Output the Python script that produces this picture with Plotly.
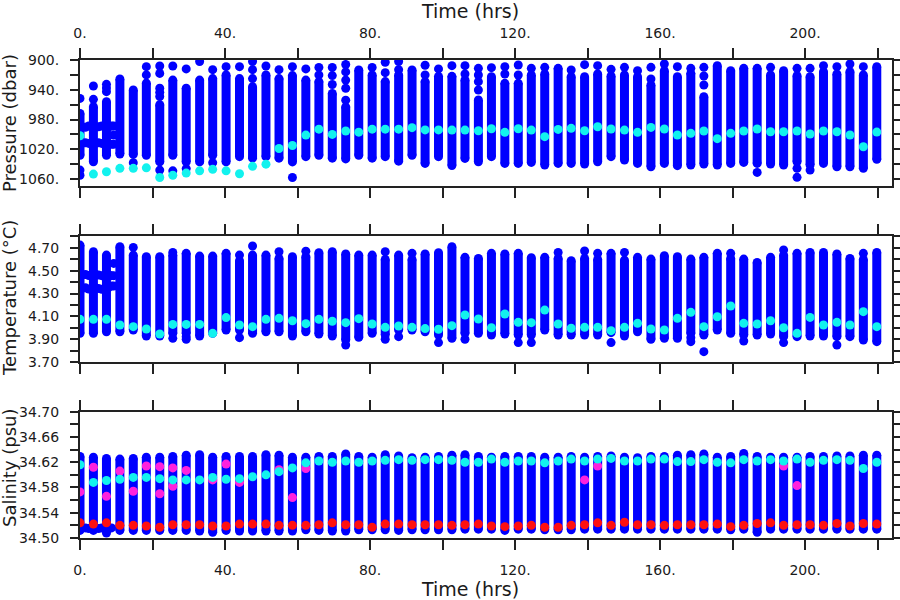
import plotly.graph_objects as go

# ---------------- data ----------------
time_hrs = [0.0, 3.7, 7.3, 11.0, 14.7, 18.3, 22.0, 25.6, 29.3, 33.0, 36.6, 40.3, 44.0, 47.6,
            51.3, 54.9, 58.6, 62.3, 65.9, 69.6, 73.3, 76.9, 80.6, 84.2, 87.9, 91.6, 95.2, 98.9,
            102.6, 106.2, 109.9, 113.5, 117.2, 120.9, 124.5, 128.2, 131.9, 135.5, 139.2, 142.8,
            146.5, 150.2, 153.8, 157.5, 161.2, 164.8, 168.5, 172.1, 175.8, 179.5, 183.1, 186.8,
            190.5, 194.1, 197.8, 201.4, 205.1, 208.8, 212.4, 216.1, 219.8]

# Pressure (dbar): main bar top / bottom, isolated points, highlighted (cyan) point
p_top = [972, 962.8, 956, 925.6, 940.4, 931, 960, 927, 938, 927, 925, 920, 925, 936, 920, 925, 921,
         927, 929, 945, 963, 913.5, 920, 929, 920, 913.5, 929, 922, 922, 926.9, 953.8, 922.4, 931.4,
         931.4, 920.2, 918.8, 911.2, 922.4, 922.4, 918.8, 921.5, 920.2, 922.4, 933.6, 914.3, 922.4,
         917.9, 949.3, 907.6, 914.3, 911.2, 911.2, 920.2, 914.3, 921.1, 922.4, 915.7, 918.8, 915.7,
         920.2, 909]
p_bot = [1028, 1036.8, 1028, 1026.4, 1026.9, 1028, 1037, 1028, 1037, 1037, 1028, 1037, 1030, 1032,
         1030, 1032, 1037, 1030, 1028, 1032, 1033, 1028, 1032, 1030, 1036, 1028, 1039, 1030, 1042,
         1032.3, 1036.8, 1030, 1039, 1039, 1037.7, 1041.2, 1039, 1039, 1039.9, 1036.8, 1030, 1034.5,
         1039, 1043.5, 1039, 1042.1, 1041.2, 1039.9, 1041.2, 1039, 1037.7, 1039, 1039.9, 1041.2,
         1036.8, 1041.2, 1039, 1043.5, 1043.5, 1045.7, 1033.6]
p_extra = [[951.6, 1048, 1055], [935, 952.9], [932.7, 937.6, 942.6], [], [1038], [909, 920],
           [908, 918, 938, 943.5, 949, 1048], [908, 1049], [912, 1046], [902], [913, 1038], [909],
           [909], [902, 913, 925], [908], [913], [909, 1058], [912], [910, 920], [910, 921, 933],
           [906, 916, 927, 938, 954], [], [910], [903, 917], [902, 913], [], [907, 920], [912],
           [907.6], [907.6, 918.8], [911.2, 920.2, 929.1, 940.4], [910.3], [909, 918.8],
           [906.7, 920.2], [911.2], [909.9], [], [913.5], [906.3], [907.6], [912.6], [909.9],
           [914.3], [909.9, 925.6], [905.4], [909], [911.2], [909.9, 921.5, 933.6], [], [], [],
           [1051.1], [909.9], [], [911.2, 1045.7, 1057.8], [911.2, 1048], [907.6], [909], [905.4],
           [909], []]
p_cyan = [1001.8, 1053.4, 1050.2, 1045.7, 1045.7, 1045, 1058, 1055, 1052, 1049, 1047, 1049, 1053,
          1043, 1040, 1019, 1015, 1001, 993, 1000, 995.5, 997, 993, 993, 993, 991, 994, 994, 994.2,
          994.2, 995.1, 992.4, 997.3, 992.4, 994.2, 1003.1, 993.3, 991.9, 995.1, 989.7, 992.8,
          994.2, 997.3, 990.6, 992.8, 1000.9, 998.6, 995.5, 1005.8, 998.6, 995.5, 992.8, 996.4,
          996.4, 995.5, 999.5, 995.5, 996.4, 1000.9, 1016.6, 996.9]

# Temperature (deg C)
t_top = [4.723, 4.665, 4.636, 4.709, 4.636, 4.622, 4.622, 4.636, 4.651, 4.627, 4.627, 4.651, 4.587,
         4.636, 4.636, 4.607, 4.622, 4.622, 4.656, 4.665, 4.645, 4.636, 4.636, 4.598, 4.636, 4.598,
         4.645, 4.656, 4.709, 4.616, 4.607, 4.651, 4.645, 4.651, 4.613, 4.616, 4.607, 4.587, 4.607,
         4.598, 4.651, 4.592, 4.616, 4.601, 4.630, 4.622, 4.601, 4.616, 4.651, 4.607, 4.601, 4.572,
         4.616, 4.636, 4.651, 4.659, 4.659, 4.645, 4.607, 4.598, 4.659]
t_bot = [3.953, 3.953, 3.967, 3.967, 3.982, 3.930, 3.930, 3.953, 3.953, 3.930, 3.953, 3.982, 3.982,
         3.953, 3.967, 3.967, 3.930, 3.967, 3.947, 3.930, 3.895, 3.918, 3.953, 3.938, 3.982, 3.982,
         3.967, 3.938, 3.909, 3.953, 3.953, 3.938, 3.947, 3.938, 3.938, 3.982, 3.938, 3.938, 3.938,
         3.938, 3.959, 3.930, 3.967, 3.901, 3.909, 3.909, 3.953, 3.938, 3.982, 3.953, 3.938, 3.938,
         3.947, 3.924, 3.924, 3.930, 3.930, 3.924, 3.924, 3.895, 3.880]
t_extra = [[], [], [], [], [4.703], [], [], [4.659, 3.909], [3.924, 3.901], [], [], [],
           [4.636, 3.915], [4.715], [], [4.665], [], [4.670], [], [], [3.851], [], [],
           [4.665, 3.901], [3.924], [4.651], [], [3.872], [], [3.901], [], [], [], [3.872],
           [3.872], [], [4.659], [], [4.671], [4.651], [3.872], [4.659], [], [], [], [],
           [3.915, 3.880], [3.793], [], [4.651], [3.886], [], [], [4.680, 3.872], [], [], [],
           [3.851], [], [4.651], []]
t_cyan = [4.075, 4.075, 4.075, 4.026, 4.011, 3.991, 3.947, 4.031, 4.031, 4.031, 3.953, 4.090, 4.026,
          4.011, 4.075, 4.084, 4.063, 4.037, 4.075, 4.058, 4.046, 4.081, 4.034, 4.005, 4.017, 4.005,
          3.994, 3.988, 4.020, 4.113, 4.078, 4.002, 4.122, 4.049, 4.046, 4.156, 4.034, 3.997, 4.005,
          4.005, 3.976, 4.005, 4.040, 3.991, 3.982, 4.084, 4.136, 4.011, 4.098, 4.191, 4.040, 4.034,
          4.063, 4.002, 3.953, 4.092, 4.026, 4.049, 4.026, 4.142, 4.011]

# Salinity (psu)
s_top = [34.629, 34.628, 34.626, 34.625, 34.626, 34.628, 34.628, 34.629, 34.631, 34.632, 34.628,
         34.629, 34.629, 34.629, 34.632, 34.631, 34.628, 34.628, 34.629, 34.629, 34.633, 34.629,
         34.628, 34.632, 34.630, 34.627, 34.628, 34.629, 34.631, 34.632, 34.629, 34.628, 34.629,
         34.629, 34.629, 34.628, 34.628, 34.629, 34.628, 34.629, 34.630, 34.628, 34.627, 34.629,
         34.629, 34.631, 34.632, 34.633, 34.628, 34.629, 34.634, 34.629, 34.628, 34.628, 34.628,
         34.629, 34.629, 34.630, 34.630, 34.631, 34.631]
s_bot = [34.512, 34.512, 34.511, 34.512, 34.512, 34.512, 34.512, 34.512, 34.512, 34.511, 34.509,
         34.512, 34.511, 34.511, 34.511, 34.511, 34.511, 34.513, 34.512, 34.511, 34.511, 34.513,
         34.513, 34.513, 34.512, 34.513, 34.513, 34.513, 34.513, 34.514, 34.514, 34.514, 34.512,
         34.514, 34.514, 34.513, 34.513, 34.513, 34.514, 34.514, 34.514, 34.514, 34.514, 34.514,
         34.514, 34.514, 34.514, 34.514, 34.514, 34.513, 34.514, 34.509, 34.514, 34.514, 34.514,
         34.514, 34.514, 34.514, 34.514, 34.514, 34.514]
s_extra = [[], [], [34.508]] + [[] for _ in range(58)]
s_cyan = [34.616, 34.588, 34.591, 34.593, 34.596, 34.596, 34.594, 34.592, 34.592, 34.592, 34.596,
          34.593, 34.594, 34.597, 34.600, 34.605, 34.611, 34.619, 34.622, 34.620, 34.622, 34.620,
          34.622, 34.623, 34.624, 34.623, 34.624, 34.624, 34.623, 34.620, 34.620, 34.625, 34.620,
          34.622, 34.622, 34.619, 34.622, 34.625, 34.622, 34.625, 34.626, 34.622, 34.622, 34.625,
          34.625, 34.621, 34.621, 34.624, 34.620, 34.619, 34.624, 34.622, 34.624, 34.622, 34.625,
          34.620, 34.623, 34.624, 34.623, 34.610, 34.620]
s_red = [34.524, 34.522, 34.524, 34.520, 34.520, 34.519, 34.517, 34.521, 34.521, 34.521, 34.519,
         34.519, 34.522, 34.522, 34.522, 34.520, 34.520, 34.520, 34.521, 34.524, 34.521, 34.521,
         34.517, 34.522, 34.522, 34.521, 34.521, 34.521, 34.520, 34.521, 34.522, 34.519, 34.518,
         34.519, 34.520, 34.517, 34.517, 34.520, 34.521, 34.524, 34.520, 34.525, 34.521, 34.521,
         34.520, 34.521, 34.521, 34.521, 34.522, 34.518, 34.520, 34.523, 34.524, 34.520, 34.521,
         34.521, 34.520, 34.523, 34.519, 34.523, 34.522]
s_magenta_time = [0.0, 3.7, 7.3, 11.0, 14.7, 18.3, 22.0, 22.0, 25.6, 25.6, 29.3, 36.6, 40.3, 44.0,
                  54.9, 58.6, 62.3, 139.2, 142.8, 194.1, 197.8]
s_magenta = [34.573, 34.612, 34.566, 34.606, 34.574, 34.614, 34.613, 34.570, 34.611, 34.582,
             34.607, 34.592, 34.617, 34.588, 34.608, 34.564, 34.610, 34.592, 34.614, 34.614, 34.583]

# early, unevenly timed samples (the "#" cluster at the start)
star_time = [0.6, 1.5, 2.4, 3.3, 4.2, 5.1, 6.0, 6.9, 7.8, 8.7]
p_star_a = [989.7, 990.5, 988.8, 989.7, 990.5, 989.7, 988.8, 989.7, 990.5, 988.8]
p_star_b = [1012.1, 1011.2, 1012.1, 1013.0, 1012.1, 1011.2, 1012.1, 1013.0, 1012.1, 1013.4]
t_star_a = [4.462, 4.466, 4.458, 4.462, 4.470, 4.462, 4.456, 4.462, 4.466, 4.456]
t_star_b = [4.345, 4.350, 4.340, 4.345, 4.352, 4.345, 4.338, 4.345, 4.350, 4.366]
s_star = [34.516, 34.516, 34.515, 34.516, 34.516, 34.515, 34.516, 34.516, 34.515, 34.516]
star_col_time = [9.3, 9.3, 9.3]
p_star_col = [988.8, 1000.9, 1013.4]
t_star_col = [4.563, 4.456, 4.366]

# axis ticks / labels
x_ticks = [0, 20, 40, 60, 80, 100, 120, 140, 160, 180, 200, 220]
x_labels = ["0.", "", "40.", "", "80.", "", "120.", "", "160.", "", "200.", ""]
p_ticks = [900, 920, 940, 960, 980, 1000, 1020, 1040, 1060]
p_labels = ["900.", "", "940.", "", "980.", "", "1020.", "", "1060."]
t_ticks = [3.7, 3.8, 3.9, 4.0, 4.1, 4.2, 4.3, 4.4, 4.5, 4.6, 4.7, 4.8]
t_labels = ["3.70", "", "3.90", "", "4.10", "", "4.30", "", "4.50", "", "4.70", ""]
s_ticks = [34.50, 34.52, 34.54, 34.56, 34.58, 34.60, 34.62, 34.64, 34.66, 34.68, 34.70]
s_labels = ["34.50", "", "34.54", "", "34.58", "", "34.62", "", "34.66", "", "34.70"]

# ---------------- styling ----------------
BLUE = "#0000ff"
CYAN = "#12f2ee"
RED = "#ff1010"
MAGENTA = "#ff22dd"
MS = 9
FONT = "DejaVu Sans"
TXT = "#1a1a1a"

fig = go.Figure()


def add_profiles(top, bot, extra, xa, ya):
    xs, ys = [], []
    for t, a, b in zip(time_hrs, top, bot):
        xs += [t, t, None]
        ys += [a, b, None]
    fig.add_trace(go.Scatter(x=xs, y=ys, xaxis=xa, yaxis=ya, mode="lines+markers",
                             line=dict(color=BLUE, width=MS),
                             marker=dict(color=BLUE, size=MS, line=dict(width=0)),
                             hoverinfo="skip", showlegend=False))
    ex, ey = [], []
    for t, vals in zip(time_hrs, extra):
        for v in vals:
            ex.append(t)
            ey.append(v)
    fig.add_trace(go.Scatter(x=ex, y=ey, xaxis=xa, yaxis=ya, mode="markers",
                             marker=dict(color=BLUE, size=MS, line=dict(width=0)),
                             showlegend=False))


def add_points(xs, ys, color, xa, ya):
    fig.add_trace(go.Scatter(x=xs, y=ys, xaxis=xa, yaxis=ya, mode="markers",
                             marker=dict(color=color, size=MS, line=dict(width=0)),
                             showlegend=False))


# pressure panel
add_profiles(p_top, p_bot, p_extra, "x", "y")
add_points(star_time, p_star_a, BLUE, "x", "y")
add_points(star_time, p_star_b, BLUE, "x", "y")
add_points(star_col_time, p_star_col, BLUE, "x", "y")
add_points(time_hrs, p_cyan, CYAN, "x", "y")

# temperature panel
add_profiles(t_top, t_bot, t_extra, "x2", "y2")
add_points(star_time, t_star_a, BLUE, "x2", "y2")
add_points(star_time, t_star_b, BLUE, "x2", "y2")
add_points(star_col_time, t_star_col, BLUE, "x2", "y2")
add_points(time_hrs, t_cyan, CYAN, "x2", "y2")

# salinity panel
add_profiles(s_top, s_bot, s_extra, "x3", "y3")
add_points(star_time, s_star, BLUE, "x3", "y3")
add_points(s_magenta_time, s_magenta, MAGENTA, "x3", "y3")
add_points(time_hrs, s_cyan, CYAN, "x3", "y3")
add_points(time_hrs, s_red, RED, "x3", "y3")

axis_common = dict(showline=True, linecolor="#222", linewidth=2, mirror="ticks",
                   ticks="outside", tickcolor="#222", tickwidth=1.5, showgrid=False,
                   zeroline=False, automargin=False,
                   tickfont=dict(family=FONT, size=14, color=TXT))

xcommon = dict(axis_common, range=[0, 224], tickmode="array", tickvals=x_ticks,
               ticktext=x_labels, ticklen=10)

W, HT = 900, 600
FR_L, FR_R, FR_T, FR_B = 80, 892, 60, 538   # frame edges in pixels
L = FR_L
R = W - FR_R
T = FR_T
B = HT - FR_B
H = HT - T - B
PW = W - L - R


def dom(y_top, y_bot):
    lo = (FR_B - y_bot) / H
    hi = (FR_B - y_top) / H
    return [max(0.0, min(1.0, lo)), max(0.0, min(1.0, hi))]


fig.update_layout(
    width=W, height=HT,
    margin=dict(l=L, r=R, t=T, b=B, autoexpand=False),
    paper_bgcolor="white", plot_bgcolor="white",
    showlegend=False,
    xaxis=dict(xcommon, anchor="y", side="top", ticklabelstandoff=4),
    xaxis2=dict(xcommon, anchor="y2", showticklabels=False),
    xaxis3=dict(xcommon, anchor="y3", side="bottom", ticklabelstandoff=8),
    yaxis=dict(axis_common, domain=dom(60, 185.7), range=[1069, 900], anchor="x",
               tickmode="array", tickvals=p_ticks, ticktext=p_labels, ticklen=8,
               ticklabelstandoff=8),
    yaxis2=dict(axis_common, domain=dom(235.7, 362.3), range=[3.70, 4.805], anchor="x2",
                tickmode="array", tickvals=t_ticks, ticktext=t_labels, ticklen=8,
                ticklabelstandoff=8),
    yaxis3=dict(axis_common, domain=dom(411.7, 538.0), range=[34.50, 34.70], anchor="x3",
                tickmode="array", tickvals=s_ticks, ticktext=s_labels, ticklen=8,
                ticklabelstandoff=8),
)


def px_x(px):
    return (px - L) / PW


def px_y(py):
    return (FR_B - py) / H


for text, x, y, ang, sz in [("Time (hrs)", 470, 11, 0, 19), ("Time (hrs)", 470, 589, 0, 19),
                            ("Pressure (dbar)", 9, 123, -90, 18),
                            ("Temperature (°C)", 9, 298, -90, 18),
                            ("Salinity (psu)", 9, 468, -90, 18)]:
    fig.add_annotation(text=text, x=px_x(x), y=px_y(y), xref="paper", yref="paper",
                       xanchor="center", yanchor="middle", showarrow=False,
                       textangle=ang, font=dict(family=FONT, size=sz, color=TXT))

# the page is exactly the chart: drop the browser's default body margin
fig.write_html("out.html", config={"displayModeBar": False},
               post_script="document.body.style.margin='0';")
